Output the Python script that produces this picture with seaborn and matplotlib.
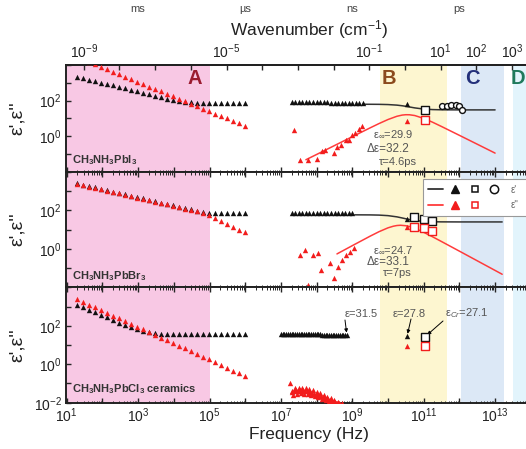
import numpy as np
import pandas as pd
import matplotlib
matplotlib.use("Agg")
import matplotlib.pyplot as plt
import matplotlib.transforms as mtransforms
from matplotlib.lines import Line2D
from matplotlib.legend_handler import HandlerTuple
from matplotlib.ticker import FixedLocator, FuncFormatter, LogLocator, NullFormatter
import seaborn as sns

# ---------------- data ----------------
# impedance analyser grid (Hz), same for the three samples
lf_freq = [20, 29.4, 43.3, 63.7, 93.8, 138, 203, 299, 440, 648, 953, 1400, 2070, 3040,
           4480, 6580, 9690, 14300, 21000, 30900, 45400, 66900, 98400, 145000,
           213000, 314000, 462000, 679000, 1000000]
# RF analyser grid (Hz)
rf_freq = [2.0e7, 2.5e7, 3.2e7, 4.0e7, 5.0e7, 6.3e7, 7.9e7, 1.0e8, 1.26e8, 1.58e8, 2.0e8,
           2.5e8, 3.2e8, 4.0e8, 5.0e8, 6.3e8, 7.9e8, 1.0e9, 1.26e9, 1.58e9, 2.0e9]
# dense RF sweep of the ceramic sample (MHz)
rf_freq_cl_mhz = [10, 11.2, 12.6, 14.1, 15.8, 17.8, 20, 22.4, 25.1, 28.2, 31.6, 35.5, 39.8,
                  44.7, 50.1, 56.2, 63.1, 70.8, 79.4, 89.1, 100, 112, 126, 141, 158, 178,
                  200, 224, 251, 282, 316, 355, 398, 447, 501, 562, 631, 708]
rf_freq_cl2_mhz = [21.1, 23.7, 26.6, 29.9, 33.5, 37.6, 42.2, 47.3, 53.1, 59.6, 66.8, 75.0,
                   84.1, 94.4, 106, 119, 133, 150, 168, 188, 211, 237, 266, 299, 335, 376,
                   422]
thz_tri_freq = [3.4e10]
thz_sq_freq = [1.1e11]

# --- CH3NH3PbI3 ---
eps1_I_lf = [2190, 1820, 1510, 1230, 1020, 851, 708, 575, 479, 398, 331, 275, 224, 186,
             155, 129, 107, 91, 83, 79, 77, 77, 76, 76, 76, 76, 76, 76, 76]
eps2_I_lf = [27500, 20000, 14500, 10700, 7760, 5620, 4070, 3020, 2190, 1580, 1150, 851,
             617, 447, 324, 240, 174, 126, 91, 68, 49, 35.5, 25.7, 18.6, 13.8, 10.0, 7.2,
             5.2, 3.9]
eps1_I_rf = [78, 78, 78, 78, 78, 78, 78, 78, 78, 78, 78, 77, 77, 77, 77, 77, 77, 77, 77, 77, 76]
eps2_I_rf_freq = [2.3e7, 3.5e7, 5.8e7, 1.02e8, 1.4e8, 1.74e8, 3.0e8, 3.7e8, 4.9e8, 6.6e8,
                  8.3e8, 9.8e8, 1.2e9, 1.55e9, 1.9e9]
eps2_I_rf = [2.1, 0.048, 0.048, 0.050, 0.14, 0.16, 0.11, 0.25, 0.30, 0.63, 0.63, 1.2, 1.6,
             2.5, 3.7]
eps1_I_tri, eps2_I_tri = [68], [6.8]
eps1_I_sq, eps2_I_sq = [28], [8.5]
circ_I_freq = [3.3e11, 4.5e11, 6.0e11, 7.9e11, 1.0e12, 1.2e12]
eps1_I_circ = [52, 50, 55, 59, 50, 31]
fitI_e1_freq = [2.0e9, 3.16e9, 5.62e9, 1.0e10, 1.78e10, 2.51e10, 3.16e10, 3.98e10, 5.62e10,
                1.0e11, 1.78e11, 3.16e11, 1.0e12, 1.0e13]
fitI_e1 = [62.0, 61.8, 61.3, 59.6, 55.4, 51.0, 47.4, 43.8, 38.7, 33.3, 31.1, 30.3, 29.9, 29.9]
fitI_e2_freq = [5.01e7, 1.0e8, 3.16e8, 1.0e9, 3.16e9, 5.62e9, 1.0e10, 1.78e10, 2.51e10,
                3.16e10, 3.98e10, 5.62e10, 1.0e11, 1.78e11, 3.16e11, 1.0e12, 3.16e12, 1.0e13]
fitI_e2 = [0.047, 0.093, 0.294, 0.93, 2.92, 5.10, 8.59, 13.1, 15.3, 16.0, 15.9, 14.4, 9.95,
           6.04, 3.48, 1.11, 0.352, 0.111]

# --- CH3NH3PbBr3 ---
eps1_Br_lf = [2510, 2140, 1820, 1550, 1320, 1120, 933, 794, 676, 575, 490, 417, 355, 295,
              251, 214, 182, 155, 132, 112, 95, 83, 74, 71, 70, 70, 70, 70, 70]
eps2_Br_lf = [2340, 2000, 1700, 1450, 1230, 1050, 871, 741, 631, 537, 457, 389, 331, 275,
              234, 200, 170, 145, 123, 105, 87, 71, 56, 40, 28, 20, 14, 10, 7.1]
eps1_Br_rf = [69, 69, 69, 69, 69, 69, 69, 69, 69, 69, 69, 69, 69, 69, 69, 69, 69, 69]
eps2_Br_rf_freq = [3.5e7, 4.6e7, 5.8e7, 8.1e7, 1.1e8, 1.32e8, 2.4e8, 3.0e8, 4.0e8, 5.1e8,
                   6.6e8, 8.5e8, 1.1e9]
eps2_Br_rf = [0.48, 0.85, 0.013, 0.48, 0.63, 0.079, 0.19, 0.030, 0.12, 0.26, 0.48, 0.71, 1.05]
eps1_Br_tri, eps2_Br_tri = [34], [14]
sq_Br_freq = [5.2e10, 1.0e11, 1.7e11]
eps1_Br_sq = [43, 35, 29]
eps2_Br_sq = [13, 11.5, 8.7]
fitBr_e1_freq = [1.17e9, 3.16e9, 5.62e9, 1.0e10, 1.78e10, 2.51e10, 3.16e10, 3.98e10, 5.62e10,
                 1.0e11, 1.78e11, 3.16e11, 1.0e12, 1.58e13]
fitBr_e1 = [57.7, 57.2, 55.9, 52.4, 45.3, 39.6, 36.0, 32.9, 29.4, 26.3, 25.2, 24.9, 24.7, 24.7]
fitBr_e2_freq = [3.72e8, 1.0e9, 3.16e9, 5.62e9, 1.0e10, 1.41e10, 1.78e10, 2.24e10, 3.16e10,
                 3.98e10, 5.62e10, 1.0e11, 1.78e11, 3.16e11, 1.0e12, 3.16e12, 1.58e13]
fitBr_e2 = [0.54, 1.45, 4.51, 7.71, 12.2, 14.8, 16.1, 16.6, 15.7, 14.3, 11.5, 7.16, 4.17,
            2.37, 0.753, 0.238, 0.0475]

# --- CH3NH3PbCl3 ceramics ---
eps1_Cl_lf = [1200, 912, 661, 501, 363, 275, 200, 145, 110, 83, 66, 54, 46, 41, 38, 37, 37,
              37, 36, 36, 36, 36, 36, 36, 36, 36, 36, 36, 36]
eps2_Cl_lf = [2450, 1780, 1260, 912, 661, 468, 339, 245, 178, 126, 91, 66, 48, 34, 24.5,
              17.8, 12.6, 9.1, 6.6, 4.7, 3.4, 2.45, 1.78, 1.26, 0.91, 0.66, 0.47, 0.34, 0.245]
eps1_Cl_rf = [36.5, 36.5, 36.4, 36.4, 36.3, 36.3, 36.2, 36.2, 36.1, 36.1, 36.0, 36.0, 35.9,
              35.9, 35.8, 35.8, 35.7, 35.6, 35.6, 35.5, 35.4, 35.3, 35.2, 35.1, 35.0, 34.9,
              34.8, 34.7, 34.6, 34.4, 34.2, 34.0, 33.8, 33.5, 33.2, 32.8, 32.2, 31.5]
eps2_Cl_rf_hi = [0.10]  # the lone point at 17.8 MHz
eps2_Cl_rf = [0.035, 0.025, 0.056, 0.030, 0.060, 0.032, 0.060, 0.030, 0.056, 0.0275, 0.050,
              0.024, 0.045, 0.0214, 0.038, 0.019, 0.0316, 0.0158, 0.0251, 0.0138, 0.020,
              0.012, 0.0166, 0.0105, 0.0135, 0.0095, 0.0112, 0.009, 0.010]
eps2_Cl_rf2 = [0.040, 0.042, 0.045, 0.042, 0.047, 0.043, 0.045, 0.040, 0.042, 0.035, 0.035,
               0.0316, 0.030, 0.0275, 0.026, 0.023, 0.022, 0.019, 0.0178, 0.0158, 0.0148,
               0.0132, 0.0126, 0.0115, 0.0107, 0.010, 0.0093]
eps1_Cl_tri, eps2_Cl_tri = [27.8], [8.9]
eps1_Cl_sq, eps2_Cl_sq = [27.1], [8.9]

# spectral ranges (Hz): A impedance, B microwave/THz, C, D
regions = [(1e1, 1e5, "#f8c8e4"), (6.0e9, 4.5e11, "#fdf6d0"),
           (1.12e12, 1.8e13, "#dce8f6"), (3.2e13, 1e15, "#e2f4fc")]
region_letters = ["A", "B", "C", "D"]
letter_colors = ["#9b1b30", "#8b4a1c", "#23307a", "#1f7a5c"]

# ---------------- style ----------------
sns.set_theme(style="ticks")
plt.rcParams["font.family"] = ["Liberation Sans", "DejaVu Sans"]
plt.rcParams["mathtext.fontset"] = "custom"
plt.rcParams["mathtext.rm"] = "Liberation Sans"
plt.rcParams["mathtext.it"] = "Liberation Sans:italic"
plt.rcParams["mathtext.bf"] = "Liberation Sans:bold"
plt.rcParams["mathtext.sf"] = "Liberation Sans"

W, H = 526, 449
BLACK = "#111111"
RED = "#f21d1d"
GREY = "#555555"


def fx(x):
    return x / W


def fy(y):
    return 1 - y / H


fig = plt.figure(figsize=(W / 100, H / 100), dpi=100)
left, width = fx(66), 486.2 / W
ax1 = fig.add_axes([left, fy(171.7), width, 106.7 / H])
ax2 = fig.add_axes([left, fy(287.3), width, 115.6 / H])
ax3 = fig.add_axes([left, fy(402.7), width, 115.4 / H])
axes = [ax1, ax2, ax3]

rf_cl = pd.Series(rf_freq_cl_mhz) * 1e6
rf_cl2 = pd.Series(rf_freq_cl2_mhz) * 1e6


def tri(ax, f, v, c):
    sns.scatterplot(x=f, y=v, marker="^", s=15, color=c, linewidth=0, ax=ax, zorder=4)


def square(ax, f, v, c):
    sns.scatterplot(x=f, y=v, marker="s", s=26, color="white", edgecolor=c,
                    linewidth=1.0, ax=ax, zorder=5)


def fit(ax, f, v, c):
    sns.lineplot(x=f, y=v, color=c, lw=1.1, ax=ax, estimator=None, sort=False, zorder=3)


for ax in axes:
    ax.set_xscale("log")
    ax.set_yscale("log")
    for lo, hi, col in regions:
        ax.axvspan(lo, hi, color=col, lw=0, zorder=0)

# top: PbI3
tri(ax1, lf_freq, eps1_I_lf, BLACK)
tri(ax1, lf_freq, eps2_I_lf, RED)
tri(ax1, rf_freq, eps1_I_rf, BLACK)
tri(ax1, eps2_I_rf_freq, eps2_I_rf, RED)
fit(ax1, fitI_e1_freq, fitI_e1, "#333333")
fit(ax1, fitI_e2_freq, fitI_e2, "#ff3b3b")
tri(ax1, thz_tri_freq, eps1_I_tri, BLACK)
tri(ax1, thz_tri_freq, eps2_I_tri, RED)
square(ax1, thz_sq_freq, eps1_I_sq, BLACK)
square(ax1, thz_sq_freq, eps2_I_sq, RED)
sns.scatterplot(x=circ_I_freq, y=eps1_I_circ, marker="o", s=18, color="white",
                edgecolor=BLACK, linewidth=1.0, ax=ax1, zorder=5)

# middle: PbBr3
tri(ax2, lf_freq, eps1_Br_lf, BLACK)
tri(ax2, lf_freq, eps2_Br_lf, RED)
tri(ax2, rf_freq[:18], eps1_Br_rf, BLACK)
tri(ax2, eps2_Br_rf_freq, eps2_Br_rf, RED)
fit(ax2, fitBr_e1_freq, fitBr_e1, "#333333")
fit(ax2, fitBr_e2_freq, fitBr_e2, "#ff3b3b")
tri(ax2, thz_tri_freq, eps1_Br_tri, BLACK)
tri(ax2, thz_tri_freq, eps2_Br_tri, RED)
square(ax2, sq_Br_freq, eps1_Br_sq, BLACK)
square(ax2, sq_Br_freq, eps2_Br_sq, RED)

# bottom: PbCl3 ceramics
tri(ax3, lf_freq, eps1_Cl_lf, BLACK)
tri(ax3, lf_freq, eps2_Cl_lf, RED)
tri(ax3, rf_cl, eps1_Cl_rf, BLACK)
tri(ax3, rf_cl[5:6], eps2_Cl_rf_hi, RED)
tri(ax3, rf_cl[6:35], eps2_Cl_rf, RED)
tri(ax3, rf_cl2, eps2_Cl_rf2, RED)
tri(ax3, thz_tri_freq, eps1_Cl_tri, BLACK)
tri(ax3, thz_tri_freq, eps2_Cl_tri, RED)
square(ax3, thz_sq_freq, eps1_Cl_sq, BLACK)
square(ax3, thz_sq_freq, eps2_Cl_sq, RED)


def freq_fmt(v, pos):
    e = int(round(np.log10(v)))
    return f"$10^{{{e}}}$" if (e % 2 == 1 and 1 <= e <= 13) else ""


for i, ax in enumerate(axes):
    ax.set_xlim(10 ** 0.98, 10 ** 14.6)
    ax.set_ylim(1e-2, 1e4)
    ax.set_ylabel("ε',ε''", fontsize=14, color="#222222")
    ax.yaxis.set_label_coords(-0.082, 0.5)
    ax.set_xlabel("")
    for s in ax.spines.values():
        s.set_linewidth(1.4)
        s.set_color("#222222")
    ax.xaxis.set_major_locator(LogLocator(base=10, numticks=40))
    ax.xaxis.set_minor_locator(LogLocator(base=10, subs=np.arange(2, 10), numticks=40))
    ax.xaxis.set_minor_formatter(NullFormatter())
    ax.yaxis.set_major_locator(FixedLocator([1e-2, 1e-1, 1e0, 1e1, 1e2, 1e3, 1e4]))
    ax.yaxis.set_minor_locator(FixedLocator([]))
    shown = [-2, 0, 2] if i == 2 else [0, 2]
    ax.yaxis.set_major_formatter(FuncFormatter(
        lambda v, p, shown=shown: f"$10^{{{int(round(np.log10(v)))}}}$"
        if int(round(np.log10(v))) in shown else ""))
    ax.tick_params(axis="both", which="major", direction="in", length=3.5, width=1,
                   labelsize=10, labelcolor="#222222", pad=3)
    ax.tick_params(axis="x", which="minor", direction="in", length=1.8, width=0.7)
    ax.tick_params(axis="x", which="both", top=(i > 0), bottom=True)
    if i < 2:
        ax.tick_params(axis="x", labelbottom=False)
    else:
        ax.xaxis.set_major_formatter(FuncFormatter(freq_fmt))

ax3.set_xlabel("Frequency (Hz)", fontsize=12.5, color="#222222", labelpad=1)

# wavenumber axis on top
c_cm = 2.998e10
sec = ax1.secondary_xaxis("top", functions=(lambda f: f / c_cm, lambda k: k * c_cm))
sec.set_xticks([1e-9, 1e-5, 1e-1, 1e1, 1e2, 1e3])
sec.xaxis.set_minor_locator(LogLocator(base=10, subs=(1.0,), numticks=40))
sec.xaxis.set_minor_formatter(NullFormatter())
sec.tick_params(which="both", direction="in", length=3.5, width=1, labelsize=10,
                labelcolor="#222222", pad=3)
sec.set_xlabel("Wavenumber (cm$^{-1}$)", fontsize=12.5, color="#222222", labelpad=5)
sec.spines["top"].set_linewidth(1.4)

# time scale labels
blend = mtransforms.blended_transform_factory(ax1.transData, fig.transFigure)
for f, lab in zip([1e3, 1e6, 1e9, 1e12], ["ms", "µs", "ns", "ps"]):
    ax1.text(f, fy(9), lab, transform=blend, ha="center", va="center", fontsize=8,
             color="#444444")

# region letters
for letter, lc, xp in zip(region_letters, letter_colors, [195, 389, 472, 518]):
    fig.text(fx(xp), fy(78), letter, ha="center", va="center", fontsize=14.5,
             fontweight="bold", color=lc)

# sample names
fig.text(fx(72), fy(160), r"$\mathbf{CH_3NH_3PbI_3}$", fontsize=8, color="#333333",
         va="center")
fig.text(fx(72), fy(276), r"$\mathbf{CH_3NH_3PbBr_3}$", fontsize=8, color="#333333",
         va="center")
fig.text(fx(72), fy(389), r"$\mathbf{CH_3NH_3PbCl_3}$ ceramics", fontsize=8,
         fontweight="bold", color="#333333", va="center")

# fit parameters
fig.text(fx(373), fy(134), r"ε$_{\infty}$=29.9", fontsize=8, color=GREY, va="center")
fig.text(fx(367), fy(149), "Δε=32.2", fontsize=8.5, color=GREY, va="center")
fig.text(fx(379), fy(162), "τ=4.6ps", fontsize=8, color=GREY, va="center")
fig.text(fx(373), fy(250), r"ε$_{\infty}$=24.7", fontsize=8, color=GREY, va="center")
fig.text(fx(367), fy(262), "Δε=33.1", fontsize=8.5, color=GREY, va="center")
fig.text(fx(383), fy(273), "τ=7ps", fontsize=8, color=GREY, va="center")

# bottom annotations with arrows
arrow = dict(arrowstyle="-|>", color="black", lw=0.7, mutation_scale=5,
             shrinkA=0, shrinkB=2)
fig.text(fx(345), fy(314), "ε=31.5", fontsize=8, color=GREY, va="center")
ax3.annotate("", xy=(rf_cl.iloc[-1], eps1_Cl_rf[-1]), xytext=(345, H - 320),
             textcoords="figure pixels", arrowprops=arrow)
fig.text(fx(393), fy(314), "ε=27.8", fontsize=8, color=GREY, va="center")
ax3.annotate("", xy=(thz_tri_freq[0], eps1_Cl_tri[0]), xytext=(411, H - 319),
             textcoords="figure pixels", arrowprops=arrow)
fig.text(fx(445), fy(313), r"ε$_{Cr}$=27.1", fontsize=8, color=GREY, va="center")
ax3.annotate("", xy=(thz_sq_freq[0], eps1_Cl_sq[0]), xytext=(443, H - 321),
             textcoords="figure pixels", arrowprops=arrow)

# legend in the middle panel; its frame runs past the right edge like the original
blk_line = Line2D([], [], color="#333333", lw=1.3)
blk_tri = Line2D([], [], ls="none", marker="^", ms=6, color=BLACK)
blk_sq = Line2D([], [], ls="none", marker="s", ms=5, mfc="white", mec=BLACK, mew=1.1)
blk_circ = Line2D([], [], ls="none", marker="o", ms=6, mfc="white", mec=BLACK, mew=1.1)
red_line = Line2D([], [], color="#ff3b3b", lw=1.3)
red_tri = Line2D([], [], ls="none", marker="^", ms=6, color=RED)
red_sq = Line2D([], [], ls="none", marker="s", ms=5, mfc="white", mec=RED, mew=1.1)
blank = Line2D([], [], ls="none")
leg = ax2.legend([(blk_line, blk_tri, blk_sq, blk_circ), (red_line, red_tri, red_sq, blank)],
                 ["ε'", "ε''"],
                 handler_map={tuple: HandlerTuple(ndivide=None, pad=0.46)},
                 loc="upper left",
                 bbox_to_anchor=(fx(422.7), fy(213.5), 140 / W, 34.2 / H),
                 bbox_transform=fig.transFigure, mode="expand", borderaxespad=0,
                 fontsize=7, handlelength=7.56, handletextpad=0.9, borderpad=0.55,
                 labelspacing=0.6, frameon=True, fancybox=False, edgecolor="#999999",
                 framealpha=1)
leg.get_frame().set_linewidth(0.8)
for t in leg.get_texts():
    t.set_color("#666666")
leg.set_zorder(10)

fig.savefig("out.png", dpi=100)
